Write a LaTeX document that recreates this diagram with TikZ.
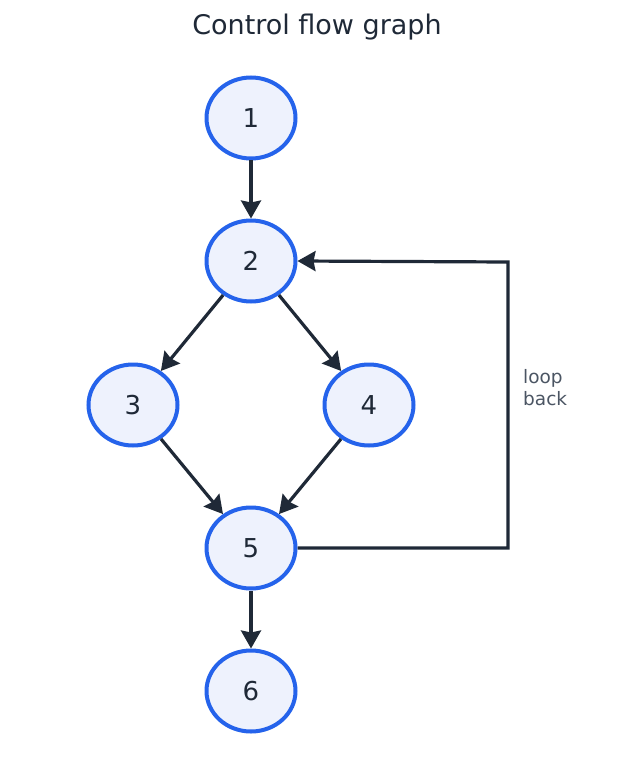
\documentclass[tikz,border=0pt]{standalone}
\usepackage{fontspec}
\setmainfont{DejaVu Sans}
\usetikzlibrary{shapes.geometric,arrows.meta}
\definecolor{nodeblue}{HTML}{2563EB}
\definecolor{nodefill}{HTML}{EEF2FD}
\definecolor{edgecol}{HTML}{1F2937}
\definecolor{labelgray}{HTML}{4B5563}
\begin{document}
\begin{tikzpicture}[x=1pt,y=-1pt,
  vertex/.style={ellipse,draw=nodeblue,fill=nodefill,line width=4pt,minimum width=89pt,minimum height=81pt,inner sep=0pt,font=\fontsize{26}{30}\selectfont,text=edgecol},
  edge/.style={draw=edgecol,line width=3.2pt,-{Stealth[length=18pt,width=20pt,inset=2pt]}}]
\useasboundingbox (0,0) rectangle (634,778);
\node[font=\fontsize{27}{32}\selectfont,text=edgecol] (title) at (317,27) {Control flow graph};
\node[vertex] (n1) at (251,118) {1};
\node[vertex] (n2) at (251,261) {2};
\node[vertex] (n3) at (133,405) {3};
\node[vertex] (n4) at (369,405) {4};
\node[vertex] (n5) at (251,548) {5};
\node[vertex] (n6) at (251,691) {6};
\draw[edge] (n1) -- (n2);
\draw[edge] (n2) -- (n3);
\draw[edge] (n2) -- (n4);
\draw[edge] (n3) -- (n5);
\draw[edge] (n4) -- (n5);
\draw[edge] (n5) -- (n6);
\coordinate (c1) at (508,548);
\coordinate (c2) at (508,262);
\draw[edge] (n5.east) -- (c1) -- (c2) -- (n2.east);
\node[anchor=north west,align=left,font=\fontsize{18.5}{22}\selectfont,text=labelgray,inner sep=0pt] (lbl) at (523,369) {loop\\back};
\end{tikzpicture}
\end{document}
